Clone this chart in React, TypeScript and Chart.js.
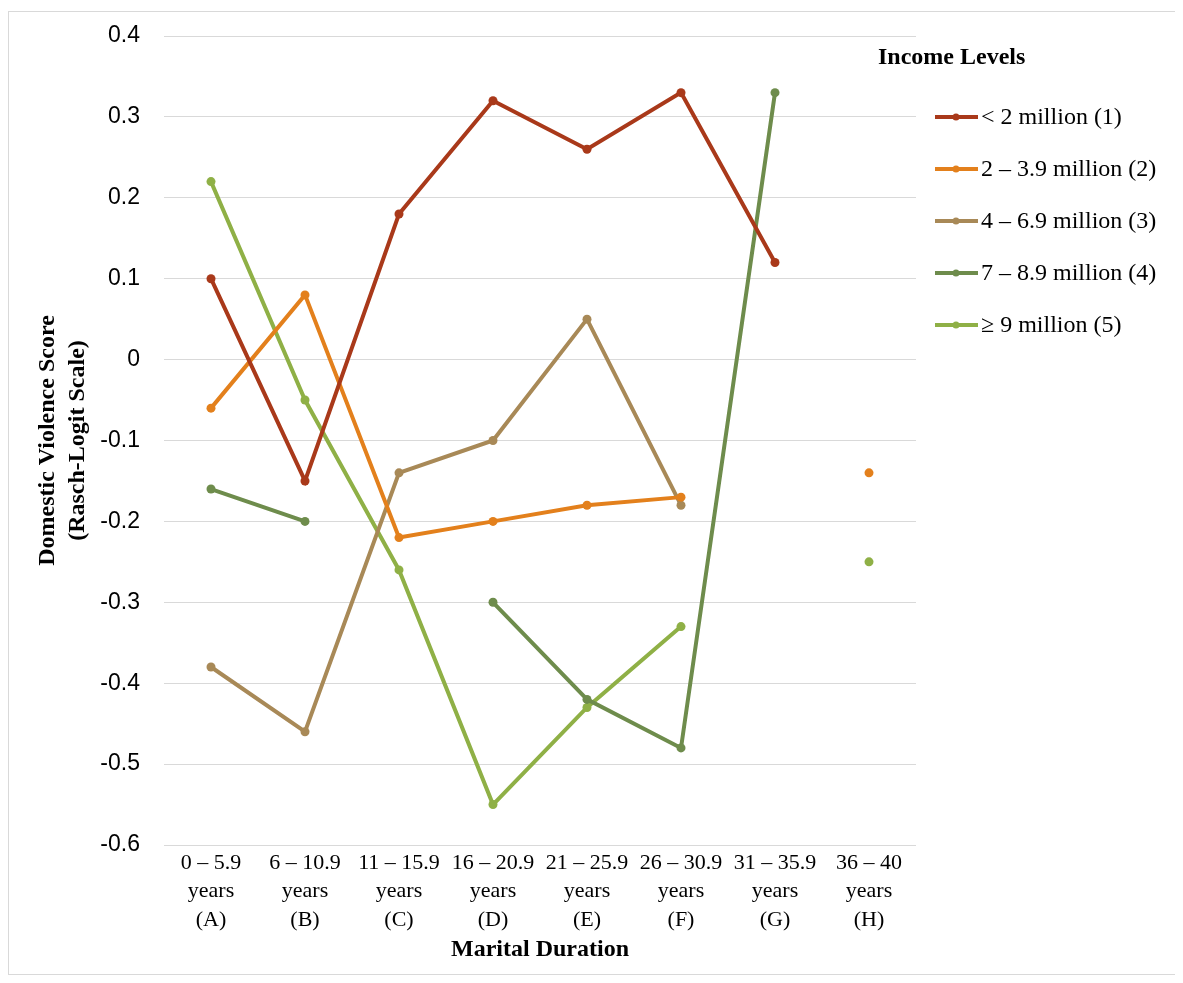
import React, { useEffect, useRef } from "react";
import { Chart, registerables } from "chart.js";

Chart.register(...registerables);

const categories: string[][] = [
  ["0 – 5.9", "years", "(A)"],
  ["6 – 10.9", "years", "(B)"],
  ["11 – 15.9", "years", "(C)"],
  ["16 – 20.9", "years", "(D)"],
  ["21 – 25.9", "years", "(E)"],
  ["26 – 30.9", "years", "(F)"],
  ["31 – 35.9", "years", "(G)"],
  ["36 – 40", "years", "(H)"],
];

const seriesNames = [
  "< 2 million (1)",
  "2 – 3.9 million (2)",
  "4 – 6.9 million (3)",
  "7 – 8.9 million (4)",
  "≥ 9 million (5)",
];

const seriesColors = ["#A9391A", "#E3801C", "#A88957", "#6E8C4C", "#8FB046"];

const income1 = [0.10, -0.15, 0.18, 0.32, 0.26, 0.33, 0.12, null];
const income2 = [-0.06, 0.08, -0.22, -0.20, -0.18, -0.17, null, -0.14];
const income3 = [-0.38, -0.46, -0.14, -0.10, 0.05, -0.18, null, null];
const income4 = [-0.16, -0.20, null, -0.30, -0.42, -0.48, 0.33, null];
const income5 = [0.22, -0.05, -0.26, -0.55, -0.43, -0.33, null, -0.25];

const seriesValues = [income1, income2, income3, income4, income5];

const yMin = -0.6;
const yMax = 0.4;
const yStep = 0.1;

const xTitle = "Marital Duration";
const yTitle = ["Domestic Violence Score", "(Rasch-Logit Scale)"];
const legendTitle = "Income Levels";

const SERIF = "'Liberation Serif', 'Times New Roman', serif";
const SANS = "'Liberation Sans', Arial, sans-serif";

const legendPlugin = {
  id: "customLegend",
  afterDraw(chart: any) {
    const ctx = chart.ctx as CanvasRenderingContext2D;
    ctx.save();
    ctx.textBaseline = "middle";
    ctx.textAlign = "left";
    ctx.fillStyle = "#000";
    ctx.font = `bold 24px ${SERIF}`;
    ctx.fillText(legendTitle, 869, 46);
    chart.data.datasets.forEach((ds: any, i: number) => {
      const y = 105 + i * 52;
      ctx.strokeStyle = ds.borderColor;
      ctx.lineWidth = 4;
      ctx.beginPath();
      ctx.moveTo(926, y);
      ctx.lineTo(969, y);
      ctx.stroke();
      ctx.fillStyle = ds.borderColor;
      ctx.beginPath();
      ctx.arc(947, y, 3.5, 0, Math.PI * 2);
      ctx.fill();
      ctx.fillStyle = "#000";
      ctx.font = `24px ${SERIF}`;
      ctx.fillText(ds.label, 972, y + 1);
    });
    ctx.restore();
  },
};

export default function App() {
  const ref = useRef<HTMLCanvasElement | null>(null);

  useEffect(() => {
    if (!ref.current) return;
    const chart = new Chart(ref.current, {
      type: "line",
      data: {
        labels: categories,
        datasets: seriesValues.map((vals, i) => ({
          label: seriesNames[i],
          data: vals,
          borderColor: seriesColors[i],
          backgroundColor: seriesColors[i],
          pointBackgroundColor: seriesColors[i],
          pointBorderWidth: 0,
          pointRadius: 4.5,
          borderWidth: 4,
          spanGaps: false,
          tension: 0,
        })),
      },
      options: {
        responsive: false,
        animation: false,
        devicePixelRatio: 1,
        layout: { padding: { left: 0, right: 259, top: 24, bottom: 0 } },
        plugins: {
          legend: { display: false },
          tooltip: { enabled: false },
        },
        scales: {
          x: {
            offset: true,
            grid: { display: false, drawTicks: false },
            border: { display: false },
            ticks: {
              color: "#000",
              font: { family: SERIF, size: 22, lineHeight: 1.29 },
              padding: 4,
              maxRotation: 0,
              autoSkip: false,
            },
            title: {
              display: true,
              text: xTitle,
              color: "#000",
              font: { family: SERIF, size: 24, weight: "bold", lineHeight: 1.2 },
              padding: { top: 4, bottom: 10 },
            },
            afterFit(scale: any) {
              scale.height = 129;
              scale.paddingTop = 0;
              scale.paddingBottom = 0;
            },
          },
          y: {
            min: yMin,
            max: yMax,
            grid: { color: "#d9d9d9", lineWidth: 1, drawTicks: false },
            border: { display: false },
            ticks: {
              stepSize: yStep,
              color: "#000",
              padding: 24,
              font: { family: SANS, size: 23 },
              callback: (v: any) => {
                const r = Math.round(Number(v) * 10) / 10;
                return r === 0 ? "0" : r.toFixed(1);
              },
            },
            title: {
              display: true,
              text: yTitle,
              color: "#000",
              font: { family: SERIF, size: 24, weight: "bold", lineHeight: 1.25 },
              padding: { top: 24, bottom: 0 },
            },
            afterFit(scale: any) {
              scale.width = 155;
              scale.paddingTop = 0;
              scale.paddingBottom = 0;
            },
          },
        },
      },
      plugins: [legendPlugin],
    });
    return () => chart.destroy();
  }, []);

  return (
    <div
      style={{
        width: 1166,
        height: 962,
        marginTop: 3,
        border: "1px solid #d9d9d9",
        background: "#fff",
      }}
    >
      <canvas ref={ref} width={1166} height={962} style={{ display: "block", width: 1166, height: 962 }} />
    </div>
  );
}
